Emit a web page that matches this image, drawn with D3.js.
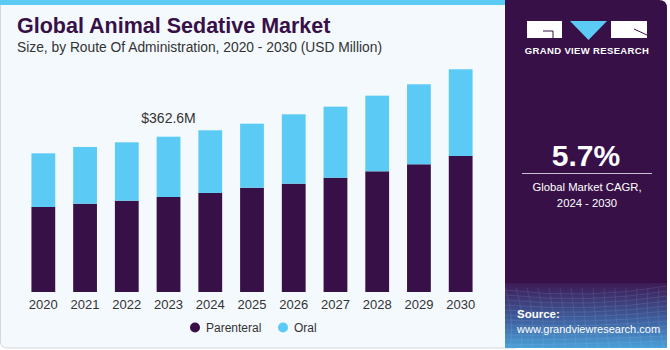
<!DOCTYPE html>
<html>
<head>
<meta charset="utf-8">
<script src="https://cdn.jsdelivr.net/npm/d3@7"></script>
<style>
  body { margin: 0; background: #fff; }
  svg { display: block; font-family: "Liberation Sans", Arial, sans-serif; }
</style>
</head>
<body>
<div id="chart-area"></div>
<script>
// data (USD Million)
const years = ['2020', '2021', '2022', '2023', '2024', '2025', '2026', '2027', '2028', '2029', '2030'];
const parenteral = [198.5, 206.2, 213.2, 221.8, 231.2, 243.5, 252.9, 266.9, 281.8, 298.2, 317.6];
const oral = [125.3, 132.4, 136.3, 140.8, 146.4, 149.5, 162.0, 165.8, 176.6, 186.8, 202.4];
const seriesNames = ['Parenteral', 'Oral'];
const colors = ['#371047', '#5bcbf5'];
const callout = { year: '2023', label: '$362.6M' };

const W = 670, H = 350;
const svg = d3.select('#chart-area').append('svg')
	.attr('width', W)
	.attr('height', H);

const defs = svg.append('defs');
const grad = defs.append('linearGradient')
	.attr('id', 'srcGrad')
	.attr('x1', 0).attr('y1', 0).attr('x2', 0).attr('y2', 1);
grad.append('stop').attr('offset', '0%').attr('stop-color', '#3d1a55');
grad.append('stop').attr('offset', '55%').attr('stop-color', '#3e5d9c');
grad.append('stop').attr('offset', '100%').attr('stop-color', '#4aa0d8');

// left panel background
svg.append('rect')
	.attr('x', 0.5).attr('y', -10)
	.attr('width', 520).attr('height', 358)
	.attr('rx', 6)
	.attr('fill', '#f4f9fd')
	.attr('stroke', '#d4d8dc');
svg.append('rect')
	.attr('x', 0).attr('y', 0)
	.attr('width', 506).attr('height', 5)
	.attr('fill', '#5bcbf5');

// right panel
svg.append('path')
	.attr('d', 'M505,0 H659 Q667,0 667,8 V348 H505 Z')
	.attr('fill', '#371047');
svg.append('rect')
	.attr('x', 505).attr('y', 283)
	.attr('width', 162).attr('height', 65)
	.attr('fill', 'url(#srcGrad)');

// grid pattern hint in source area
const mesh = svg.append('g').attr('opacity', 0.18).attr('stroke', '#cfe6ff').attr('fill', 'none');
d3.range(0, 12).forEach(i => {
	mesh.append('path')
		.attr('d', 'M505,' + (290 + i * 5) + ' Q590,' + (300 + i * 4) + ' 667,' + (286 + i * 5))
		.attr('stroke-width', 0.6);
});
d3.range(0, 16).forEach(i => {
	mesh.append('path')
		.attr('d', 'M' + (510 + i * 11) + ',348 Q' + (515 + i * 10) + ',315 ' + (505 + i * 11) + ',288')
		.attr('stroke-width', 0.6);
});

// logo
const logo = svg.append('g');
logo.append('rect').attr('x', 527).attr('y', 21).attr('width', 35).attr('height', 17).attr('fill', '#fff');
logo.append('path').attr('d', 'M543,31 H553 V38').attr('stroke', '#371047').attr('stroke-width', 1).attr('fill', 'none');
logo.append('path').attr('d', 'M570,21 H607 L588.5,40 Z').attr('fill', '#5bcbf5');
logo.append('rect').attr('x', 611).attr('y', 21).attr('width', 36).attr('height', 17).attr('fill', '#fff');
logo.append('path').attr('d', 'M634,29 L647,35').attr('stroke', '#371047').attr('stroke-width', 1);
svg.append('text')
	.attr('x', 587).attr('y', 54)
	.attr('text-anchor', 'middle')
	.attr('fill', '#fff')
	.attr('font-size', '9.5px')
	.attr('font-weight', 'bold')
	.attr('letter-spacing', '0.35')
	.text('GRAND VIEW RESEARCH');

// CAGR block
svg.append('text')
	.attr('x', 586).attr('y', 166)
	.attr('text-anchor', 'middle')
	.attr('fill', '#fff')
	.attr('font-size', '30px')
	.attr('font-weight', 'bold')
	.text('5.7%');
svg.append('line')
	.attr('x1', 522).attr('x2', 652)
	.attr('y1', 173.5).attr('y2', 173.5)
	.attr('stroke', '#c9bfd0').attr('stroke-width', 1);
svg.append('text')
	.attr('x', 587).attr('y', 191)
	.attr('text-anchor', 'middle')
	.attr('fill', '#fff')
	.attr('font-size', '11.3px')
	.text('Global Market CAGR,');
svg.append('text')
	.attr('x', 587).attr('y', 207)
	.attr('text-anchor', 'middle')
	.attr('fill', '#fff')
	.attr('font-size', '11.3px')
	.text('2024 - 2030');

// source
svg.append('text')
	.attr('x', 517).attr('y', 318)
	.attr('fill', '#fff')
	.attr('font-size', '11.5px')
	.attr('font-weight', 'bold')
	.text('Source:');
svg.append('text')
	.attr('x', 517).attr('y', 333)
	.attr('fill', '#fff')
	.attr('font-size', '11px')
	.text('www.grandviewresearch.com');

// titles
svg.append('text')
	.attr('x', 17).attr('y', 33)
	.attr('fill', '#371047')
	.attr('font-size', '21.5px')
	.attr('font-weight', 'bold')
	.text('Global Animal Sedative Market');
svg.append('text')
	.attr('x', 17).attr('y', 52)
	.attr('fill', '#333')
	.attr('font-size', '13.8px')
	.text('Size, by Route Of Administration, 2020 - 2030 (USD Million)');

// chart
const data = years.map((y, i) => ({ year: y, Parenteral: parenteral[i], Oral: oral[i] }));
const stack = d3.stack().keys(seriesNames)(data);

const x = d3.scaleBand()
	.domain(years)
	.range([21, 483])
	.paddingInner(0.43)
	.paddingOuter(0.25);

const y = d3.scaleLinear()
	.domain([0, 362.6])
	.range([292, 136.7]);

const g = svg.append('g');
g.selectAll('g.series')
	.data(stack)
	.enter()
	.append('g')
		.attr('class', 'series')
		.attr('fill', (d, i) => colors[i])
	.selectAll('rect')
	.data(d => d)
	.enter()
	.append('rect')
		.attr('x', d => x(d.data.year))
		.attr('y', d => y(d[1]))
		.attr('width', x.bandwidth())
		.attr('height', d => y(d[0]) - y(d[1]));

const xAxis = d3.axisBottom(x).tickSize(0).tickPadding(8);
const ax = g.append('g')
	.attr('transform', 'translate(0,292)')
	.call(xAxis);
ax.select('.domain').remove();
ax.selectAll('text')
	.attr('font-size', '13px')
	.attr('fill', '#333')
	.attr('font-family', '"Liberation Sans", Arial, sans-serif');

// callout
const ci = years.indexOf(callout.year);
g.append('text')
	.attr('x', x(callout.year) + x.bandwidth() / 2)
	.attr('y', y(parenteral[ci] + oral[ci]) - 14)
	.attr('text-anchor', 'middle')
	.attr('fill', '#333')
	.attr('font-size', '14px')
	.text(callout.label);

// legend
const legendX = [195, 283];
const leg = svg.append('g');
seriesNames.forEach((n, i) => {
	leg.append('circle')
		.attr('cx', legendX[i]).attr('cy', 327.5)
		.attr('r', 5)
		.attr('fill', colors[i]);
	leg.append('text')
		.attr('x', legendX[i] + 11).attr('y', 332)
		.attr('fill', '#333')
		.attr('font-size', '12px')
		.text(n);
});
</script>
</body>
</html>
